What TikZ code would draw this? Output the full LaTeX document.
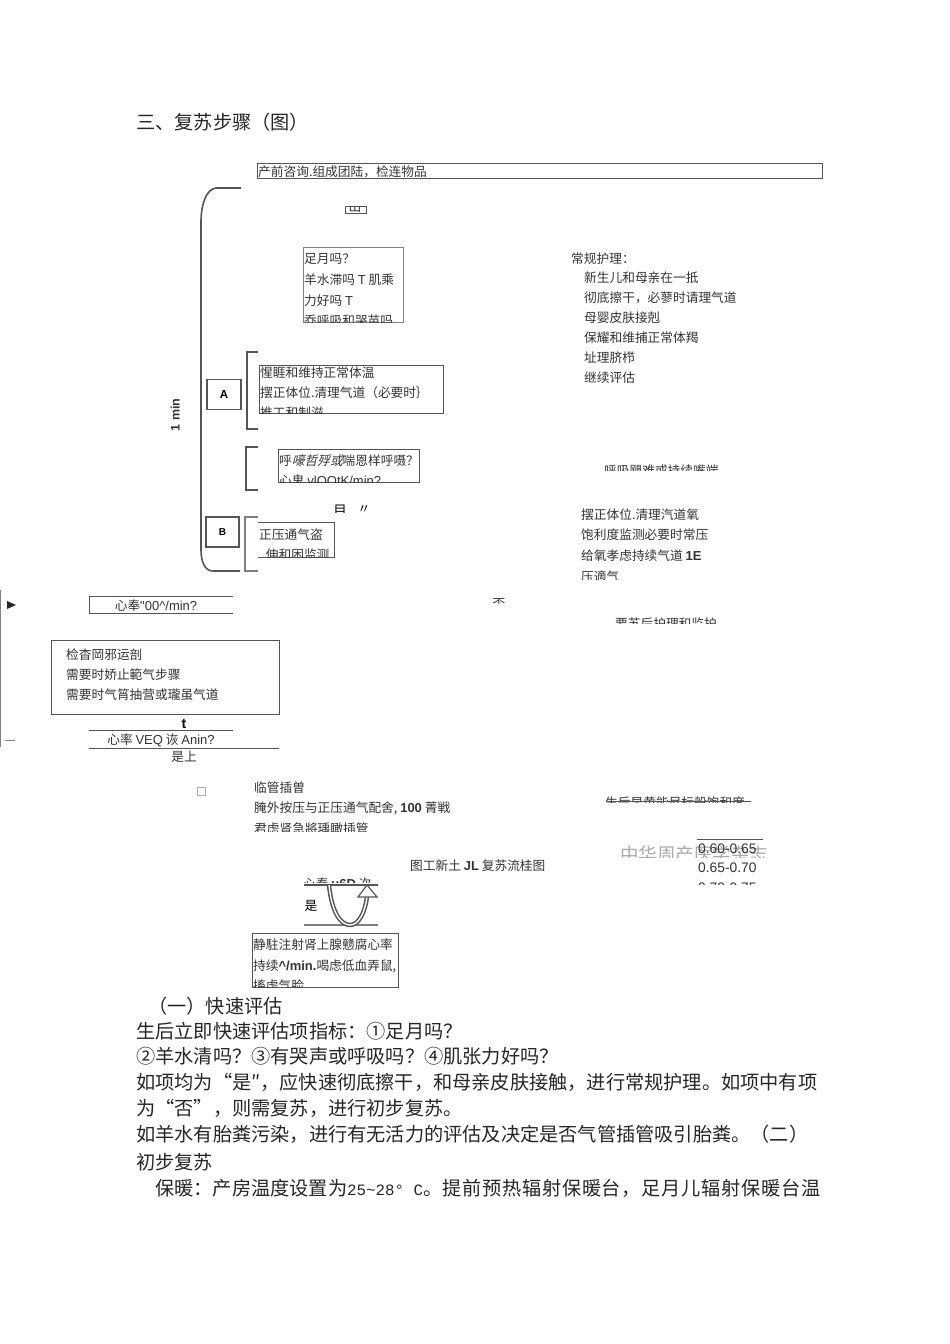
\documentclass[tikz,border=0pt]{standalone}
\usepackage{fontspec}
\setmainfont{Noto Sans CJK SC}
\newfontfamily\slantcjk[FakeSlant=0.25]{Noto Sans CJK SC}
\newfontfamily\latinsans{Liberation Sans}
\newfontfamily\latinmono{Liberation Mono}
\newcommand{\lat}[1]{{\latinsans\fontsize{13}{15}\selectfont #1}}
\newcommand{\tablenum}[1]{{\latinsans\fontsize{13.8}{15}\selectfont #1}}
\definecolor{inkgray}{HTML}{333333}
\definecolor{rulegray}{HTML}{555555}
\definecolor{markgray}{HTML}{AAAAAA}
\tikzset{
  flowtext/.style={anchor=west, inner sep=0pt, text=inkgray, font=\fontsize{12.7}{15}\selectfont},
  midtext/.style={flowtext, anchor=center},
  bodytext/.style={anchor=west, inner sep=0pt, text=black!85, font=\fontsize{19.2}{21}\selectfont},
  flowbox/.style={draw=rulegray, line width=0.8pt},
  bracketline/.style={draw=rulegray, line width=1.4pt},
  letterbox/.style={draw=rulegray, line width=1.3pt, inner sep=0pt, font=\latinsans\fontsize{11.5}{12}\selectfont\bfseries}
}
\begin{document}
\begin{tikzpicture}[x=1pt, y=-1pt]
        \useasboundingbox (0,0) rectangle (950,1344);
        \node[bodytext] (title) at (136, 122) {三、复苏步骤（图）};
        % top box
        \draw[flowbox] (257,163) rectangle (822,178);
        \begin{scope}
            \clip (257,163) rectangle (822,178);
            \node[flowtext] (prep) at (258, 172) {产前咨询.组成团陆，检连物品};
        \end{scope}
        % long bracket and time
        \draw[bracketline, line width=1.6pt] (241,188) -- (216,188) .. controls (206,189) and (201,205) .. (201,222)
            -- (201,550) .. controls (201,562) and (205,571) .. (213,571) -- (240,571);
        \node[flowtext, anchor=center, rotate=90, font=\latinsans\fontsize{12.5}{13}\selectfont\bfseries] (minute) at (175, 415) {1 min};
        \draw[flowbox] (345,206) rectangle (366,213);
        \begin{scope}
            \clip (345,206) rectangle (366,213);
            \node[midtext] (birth) at (355, 207) {出};
        \end{scope}
        % assessment
        \draw[flowbox, draw=gray] (303,247) rectangle (403,322);
        \begin{scope}
            \clip (303,247) rectangle (403,322);
            \node[flowtext] (q1) at (304, 259) {足月吗？};
            \node[flowtext] (q2) at (304, 280) {羊水滞吗 \lat{T} 肌乘};
            \node[flowtext] (q3) at (304, 301) {力好吗 \lat{T}};
            \node[flowtext] (q4) at (304, 321) {乔呼吸和哭苗吗};
        \end{scope}
        \node[flowtext] (care) at (571, 259) {常规护理：};
        \node[flowtext] (care1) at (584, 278) {新生儿和母亲在一抵};
        \node[flowtext] (care2) at (584, 298) {彻底擦干，必蓼时请理气道};
        \node[flowtext] (care3) at (584, 318) {母婴皮肤接剋};
        \node[flowtext] (care4) at (584, 338) {保耀和维捕正常体羯};
        \node[flowtext] (care5) at (584, 358) {址理脐栉};
        \node[flowtext] (care6) at (584, 378) {继续评估};
        % step A
        \draw[bracketline] (258,352) -- (247,352) -- (247,429) -- (258,429);
        \node[letterbox, minimum width=34pt, minimum height=30pt] (stepa) at (224, 394.5) {A};
        \draw[flowbox] (259,365) rectangle (443,413);
        \begin{scope}
            \clip (259,365) rectangle (443,413);
            \node[flowtext] (a1) at (260, 373) {惺睚和维持正常体温};
            \node[flowtext] (a2) at (260, 393) {摆正体位.清理气道（必要时｝};
            \node[flowtext] (a3) at (260, 413) {推工和制滋};
        \end{scope}
        % breathing check
        \draw[bracketline] (258,447) -- (246,447) -- (246,490) -- (258,490);
        \draw[flowbox] (278,449) rectangle (419,482);
        \begin{scope}
            \clip (278,449) rectangle (419,482);
            \node[flowtext] (h1) at (279, 461) {呼{\slantcjk 嚎哲殍或}喘恩样呼嗫？};
            \node[flowtext] (h2) at (279, 481) {心鬼 \lat{vlOOtK/min?}};
        \end{scope}
        \begin{scope}
            \clip (600,460) rectangle (725,470);
            \node[flowtext] (hard) at (604, 471) {呼吸飓难或持续嘴端};
        \end{scope}
        \begin{scope}
            \clip (330,500) rectangle (375,512);
            \node[midtext, text=black, font=\fontsize{13.5}{15}\selectfont] (yes1) at (340, 511) {目};
            \node[midtext, text=black] (yes2) at (364, 510) {〃};
        \end{scope}
        % step B
        \node[letterbox, font=\latinsans\fontsize{10}{12}\selectfont\bfseries, minimum width=33pt, minimum height=30pt] (stepb) at (222.5, 532) {B};
        \draw[bracketline, draw=gray] (258,517) -- (245,517) -- (245,571) -- (258,571);
        \draw[flowbox] (258,522) -- (334,522) -- (334,557) -- (258,557);
        \begin{scope}
            \clip (258,522) rectangle (334,557);
            \node[flowtext] (b1) at (259, 535) {正压通气盗};
            \node[flowtext] (b2) at (253, 555) {'伸和困监测};
        \end{scope}
        \node[flowtext] (air1) at (581, 515) {摆正体位.清理汽道氧};
        \node[flowtext] (air2) at (581, 535) {饱利度监测必要时常压};
        \node[flowtext] (air3) at (581, 556) {给氧孝虑持续气道 \lat{\textbf{1E}}};
        \begin{scope}
            \clip (575,565) rectangle (720,579);
            \node[flowtext] (air4) at (581, 577) {压適气};
        \end{scope}
        \begin{scope}
            \clip (490,590) rectangle (510,603);
            \node[midtext] (no1) at (499, 604) {否};
        \end{scope}
        \begin{scope}
            \clip (610,610) rectangle (725,623);
            \node[flowtext] (after) at (615, 624) {要苏后护理和监护};
        \end{scope}
        % heart rate 100
        \draw[draw=gray, line width=1pt] (0.7,590) -- (0.7,747);
        \fill[black!85] (7,601) -- (16,605) -- (7,609) -- cycle;
        \draw[draw=gray, line width=1pt] (5,740) -- (15,740);
        \draw[flowbox] (233,596) -- (89,596) -- (89,613) -- (233,613);
        \node[midtext] (hr1) at (156, 606) {心奉\lat{\symbol{34}00\symbol{94}/min?}};
        \node[flowbox, minimum width=228pt, minimum height=74pt] (check) at (165, 677) {};
        \node[flowtext] (c1) at (66, 655) {检杳岡邪运剖};
        \node[flowtext] (c2) at (66, 675) {需要时娇止範气步骤};
        \node[flowtext] (c3) at (66, 695) {需要时气筲抽营或瓏虽气道};
        \node[midtext, text=black, font=\latinsans\fontsize{14}{15}\selectfont\bfseries] (up) at (184, 724) {t};
        \draw[flowbox] (89,730) -- (233,730);
        \node[midtext] (hr2) at (161, 740) {心率 \lat{VEQ} 诙 \lat{Anin?}};
        \draw[flowbox] (89,748) -- (279,748);
        \node[midtext] (yes3) at (184, 757) {是上};
        % compressions
        \node[draw=markgray, line width=0.8pt, inner sep=0pt, minimum size=8pt] (mark) at (201, 791) {};
        \node[flowtext] (cpr1) at (254, 788) {临管插曽};
        \node[flowtext] (cpr2) at (254, 808) {腌外按压与正压通气配舍, \lat{\textbf{100}} 菁戦};
        \begin{scope}
            \clip (250,820) rectangle (460,831);
            \node[flowtext] (cpr3) at (254, 829) {君虑肾急將瑀瞰插管};
        \end{scope}
        \node[flowtext] (caption) at (410, 866) {图工新土 \lat{\textbf{JL}} 复苏流桂图};
        \begin{scope}
            \clip (300,870) rectangle (370,882);
            \node[flowtext] (hr3) at (303, 884) {心奉 \lat{\textbf{u6D}} 次};
        \end{scope}
        \draw[flowbox, line width=1.2pt] (304,885) -- (378,885);
        \draw[flowbox, line width=1.4pt, draw=gray] (304,925) -- (378,925);
        \node[midtext, text=black] (yes4) at (311, 906) {是};
        % curved arrow
        \coordinate (ustart) at (329,885);
        \coordinate (uend) at (367,897);
        \draw[rulegray, line width=4.4pt] (ustart) .. controls (332,915) and (342,925) .. (350,925) .. controls (359,925) and (365,912) .. (uend);
        \draw[white, line width=1.4pt] (ustart) .. controls (332,915) and (342,925) .. (350,925) .. controls (359,925) and (365,912) .. (uend);
        \draw[rulegray, fill=white, line width=1.2pt] (367,885) -- (358,897) -- (377,897) -- cycle;
        % epinephrine
        \draw[flowbox] (252,933) rectangle (398,987);
        \begin{scope}
            \clip (252,933) rectangle (398,987);
            \node[flowtext] (e1) at (253, 945) {静駐注射肾上腺戆腐心率};
            \node[flowtext] (e2) at (253, 966) {持续\lat{\textbf{\symbol{94}/min.}}喝虑低血弄鼠,};
            \node[flowtext] (e3) at (253, 986) {搐虑气脸};
        \end{scope}
        % right side table
        \begin{scope}
            \clip (600,790) rectangle (755,802);
            \node[flowtext] (spo) at (605, 803) {生后早黄能尽标般饱和度};
        \end{scope}
        \draw[flowbox] (606,801) -- (751,801);
        \begin{scope}
            \clip (615,835) rectangle (775,857);
            \node[flowtext, text=markgray, font=\fontsize{18.5}{20}\selectfont] (mark2) at (620, 854) {中华周产医学杂志};
        \end{scope}
        \draw[flowbox] (697,839) -- (763,839);
        \node[flowtext] (v1) at (698, 849) {\tablenum{0.60-0.65}};
        \node[flowtext] (v2) at (698, 868) {\tablenum{0.65-0.70}};
        \begin{scope}
            \clip (690,875) rectangle (770,884);
            \node[flowtext] (v3) at (698, 888) {\tablenum{0.70-0.75}};
        \end{scope}
        % body text
        \node[bodytext] (sec1) at (148, 1006) {（一）快速评估};
        \node[bodytext] (line1) at (136, 1031) {生后立即快速评估项指标：①足月吗？};
        \node[bodytext] (line2) at (136, 1056) {②羊水清吗？③有哭声或呼吸吗？④肌张力好吗？};
        \node[bodytext] (line3) at (136, 1082) {如项均为“是″，应快速彻底擦干，和母亲皮肤接触，进行常规护理。如项中有项};
        \node[bodytext] (line4) at (136, 1108) {为“否”，则需复苏，进行初步复苏。};
        \node[bodytext] (line5) at (136, 1134) {如羊水有胎粪污染，进行有无活力的评估及决定是否气管插管吸引胎粪。（二）};
        \node[bodytext] (line6) at (136, 1162) {初步复苏};
        \node[bodytext] (line7) at (155, 1188) {保暖：产房温度设置为{\latinmono\fontsize{15.8}{21}\selectfont 25\symbol{126}28° C}。{\addfontfeature{LetterSpace=4}提前预热辐射保暖台，足月儿辐射保暖台温}};
\end{tikzpicture}
\end{document}
